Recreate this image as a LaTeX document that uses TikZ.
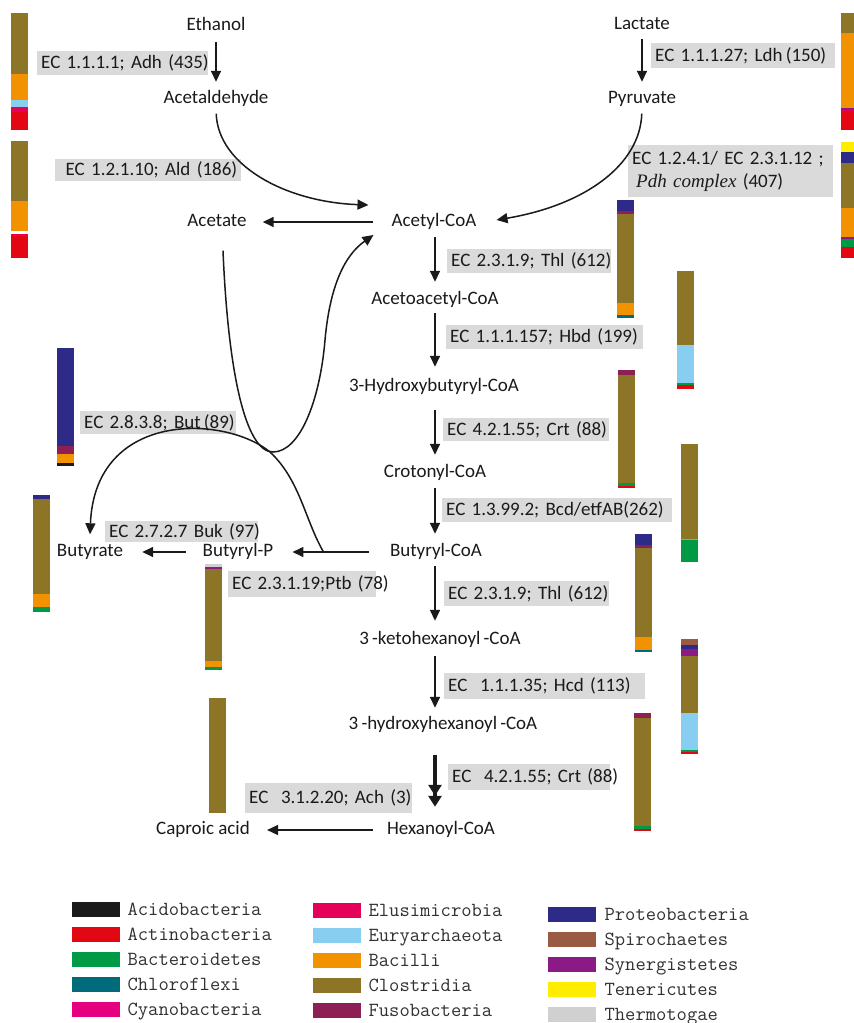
\documentclass[tikz,border=0pt]{standalone}
\usepackage{fontspec}
\setmainfont{Carlito}
\newfontfamily\pdhfont{Liberation Serif}
\usetikzlibrary{arrows.meta,calc}
\definecolor{acido}{HTML}{1A1A1A}
\definecolor{actino}{HTML}{E30613}
\definecolor{bactero}{HTML}{009A44}
\definecolor{chloro}{HTML}{006B7B}
\definecolor{cyano}{HTML}{E4007F}
\definecolor{elusi}{HTML}{E5005A}
\definecolor{eury}{HTML}{87CEF0}
\definecolor{bacilli}{HTML}{F39200}
\definecolor{clost}{HTML}{8C7527}
\definecolor{fuso}{HTML}{8E1F55}
\definecolor{proteo}{HTML}{2D2A88}
\definecolor{spiro}{HTML}{9A5B45}
\definecolor{synerg}{HTML}{8B1A86}
\definecolor{teneri}{HTML}{FFED00}
\definecolor{thermo}{HTML}{D0D0D0}
\definecolor{lblgray}{HTML}{DADADA}
\definecolor{inkc}{HTML}{1A1A1A}
\newcommand\chemfont{\fontsize{19}{23}\selectfont}
\newcommand\legfont{\fontsize{20}{22}\selectfont\ttfamily}
\newcommand\sg[4]{\fill[#1] (#2,#3) rectangle ({#2+17},#4);}
\tikzset{
  chem/.style={font=\chemfont, text=inkc, inner sep=0pt, text height=13pt, text depth=4pt},
  lbl/.style={fill=lblgray, font=\chemfont, text=inkc, inner xsep=4pt, inner ysep=0pt,
    anchor=north west, align=left},
  arr/.style={draw=inkc, line width=1.6pt, -{Triangle[length=11pt,width=10pt]}},
  curve/.style={draw=inkc, line width=1.5pt},
  swatch/.style={anchor=north west, minimum width=48pt, minimum height=15pt, inner sep=0pt},
  legtext/.style={anchor=west, font=\legfont, text=inkc!90, inner sep=0pt, text height=12pt, text depth=3pt}
}
\begin{document}
\begin{tikzpicture}[x=1pt,y=-1pt]
\useasboundingbox (0,0) rectangle (854,1023);
\fill[white] (0,0) rectangle (854,1023);

% ---------- metabolite nodes ----------
\node[chem] (ethanol) at (216,26) {Ethanol};
\node[chem] (acetald) at (216,99) {Acetaldehyde};
\node[chem] (lactate) at (642,25) {Lactate};
\node[chem] (pyruvate) at (642,99) {Pyruvate};
\node[chem] (acetate) at (217,222) {Acetate};
\node[chem] (acetyl) at (434,222) {Acetyl-CoA};
\node[chem] (acetoacetyl) at (435,300) {Acetoacetyl-CoA};
\node[chem] (hydroxybut) at (434,387) {3-Hydroxybutyryl-CoA};
\node[chem] (crotonyl) at (435,473) {Crotonyl-CoA};
\node[chem] (butyrylcoa) at (436,552) {Butyryl-CoA};
\node[chem] (butyrylp) at (238,552) {Butyryl-P};
\node[chem] (butyrate) at (90,552) {Butyrate};
\node[chem] (keto) at (440,640) {3\,-ketohexanoyl\,-CoA};
\node[chem] (hydroxyhex) at (443,725) {3\,-hydroxyhexanoyl\,-CoA};
\node[chem] (hexanoyl) at (441,830) {Hexanoyl-CoA};
\node[chem] (caproic) at (203,830) {Caproic acid};
\coordinate (ax) at (435,0);

% ---------- enzyme labels ----------
\node[lbl, text width=163pt, minimum height=24pt] (adh) at (37,51) {\mbox{EC 1.1.1.1; Adh (435)}};
\node[lbl, text width=176pt, minimum height=25pt] (ldh) at (651,43) {\mbox{EC 1.1.1.27; Ldh\,(150)}};
\node[lbl, text width=178pt, minimum height=22pt, align=right] (ald) at (55,159) {\mbox{EC 1.2.1.10; Ald (186)}};
\node[lbl, text width=197pt, minimum height=52pt] (pdh) at (628,145)
  {\mbox{EC 1.2.4.1/ EC 2.3.1.12 ;}\\\mbox{\hspace{4pt}{\pdhfont\itshape Pdh complex} (407)}};
\node[lbl, text width=156pt, minimum height=24pt] (thl) at (447,249) {\mbox{EC 2.3.1.9; Thl (612)}};
\node[lbl, text width=189pt, minimum height=24pt] (hbd) at (446,325) {\mbox{EC 1.1.1.157; Hbd (199)}};
\node[lbl, text width=148pt, minimum height=23pt] (but) at (80,411) {\mbox{EC 2.8.3.8; But\,(89)}};
\node[lbl, text width=158pt, minimum height=23pt] (crt) at (443,418) {\mbox{EC 4.2.1.55; Crt (88)}};
\node[lbl, text width=222pt, minimum height=24pt] (bcd) at (442,498) {\mbox{EC 1.3.99.2; Bcd/etfAB(262)}};
\node[lbl, text width=145pt, minimum height=21pt] (buk) at (105,521) {\mbox{EC 2.7.2.7 Buk (97)}};
\node[lbl, text width=140pt, minimum height=26pt] (ptb) at (228,571) {\mbox{EC 2.3.1.19;Ptb (78)}};
\node[lbl, text width=157pt, minimum height=25pt] (thlb) at (444,581) {\mbox{EC 2.3.1.9; Thl (612)}};
\node[lbl, text width=193pt, minimum height=26pt] (hcd) at (444,673) {\mbox{EC\ \ 1.1.1.35; Hcd (113)}};
\node[lbl, text width=154pt, minimum height=26pt] (crtb) at (448,764) {\mbox{EC\ \ 4.2.1.55; Crt (88)}};
\node[lbl, text width=159pt, minimum height=30pt] (ach) at (245,783) {\mbox{EC\ \ 3.1.2.20; Ach (3)}};

% ---------- straight connectors ----------
\draw[arr, shorten <=7.5pt, shorten >=8.5pt] (ethanol.south) -- (ethanol.south |- acetald.north);
\draw[arr, shorten <=5.5pt, shorten >=8.5pt] (lactate.south) -- (lactate.south |- pyruvate.north);
\draw[arr, shorten <=6.5pt, shorten >=9.5pt] (acetyl.south -| ax) -- (acetoacetyl.north -| ax);
\draw[arr, shorten <=4.5pt, shorten >=11.5pt] (acetoacetyl.south -| ax) -- (hydroxybut.north -| ax);
\draw[arr, shorten <=14.5pt, shorten >=9.5pt] (hydroxybut.south -| ax) -- (crotonyl.north -| ax);
\draw[arr, shorten <=6.5pt, shorten >=9.5pt] (crotonyl.south -| ax) -- (butyrylcoa.north -| ax);
\draw[arr, shorten <=5.5pt, shorten >=10.5pt] (butyrylcoa.south -| ax) -- (keto.north -| ax);
\draw[arr, shorten <=7.5pt, shorten >=8.5pt] (keto.south -| ax) -- (hydroxyhex.north -| ax);
\draw[draw=inkc, line width=3.2pt, -{Triangle[length=11pt,width=13pt]Triangle[length=11pt,width=13pt]},
  shorten <=21.5pt, shorten >=14.5pt] (hydroxyhex.south -| ax) -- (hexanoyl.north -| ax);
\draw[arr, shorten <=18pt, shorten >=16pt] (acetyl.west) -- (acetate.east);
\draw[arr, shorten <=21pt, shorten >=19pt] (butyrylcoa.west) -- (butyrylp.east);
\draw[arr, shorten <=17pt, shorten >=19pt] (butyrylp.west) -- (butyrate.east);
\draw[arr, shorten <=14pt, shorten >=17pt] (hexanoyl.west) -- (caproic.east);

% ---------- curved connectors ----------
\draw[curve, -{Triangle[length=11pt,width=10pt]}, shorten <=6pt]
  (acetald.south) .. controls (218,165) and (285,202) .. ($(acetyl.west)+(-23,-17)$);
\draw[curve, -{Triangle[length=11pt,width=10pt]}, shorten <=6pt]
  (pyruvate.south) .. controls (640,165) and (585,205) .. ($(acetyl.east)+(20,-2)$);
\draw[curve, -{Triangle[length=11pt,width=10pt]}]
  ($(acetate.south)+(6,20)$) .. controls (228,370) and (245,452) .. (273,452)
  .. controls (300,452) and (320,400) .. (325,340)
  .. controls (330,285) and (345,255) .. ($(acetyl.west)+(-18,13)$);
\draw[curve, -{Triangle[length=11pt,width=10pt]}]
  ($(butyrylp.east)+(50,0)$) .. controls (305,520) and (300,480) .. (270,452)
  .. controls (225,415) and (95,410) .. ($(butyrate.north)+(0,-9)$);

% ---------- stacked bars ----------
% top-left (Adh)
\sg{clost}{11}{13}{74}\sg{bacilli}{11}{74}{100}\sg{eury}{11}{100}{107}\sg{elusi}{11}{107}{112}\sg{actino}{11}{112}{130}
% left (Ald)
\sg{clost}{11}{141}{201}\sg{bacilli}{11}{201}{231}\sg{elusi}{11}{234}{236}\sg{actino}{11}{236}{258}
% top-right (Ldh)
\sg{clost}{841}{13}{33}\sg{bacilli}{841}{33}{108}\sg{synerg}{841}{108}{110}\sg{elusi}{841}{110}{111}\sg{actino}{841}{111}{130}
% right (Pdh)
\sg{teneri}{841}{142}{152}\sg{proteo}{841}{152}{163}\sg{clost}{841}{163}{208}\sg{bacilli}{841}{208}{237}\sg{synerg}{841}{237}{239}\sg{bactero}{841}{239}{247}\sg{actino}{841}{247}{258}
% Thl
\sg{proteo}{617}{200}{211}\sg{fuso}{617}{211}{214}\sg{clost}{617}{214}{303}\sg{bacilli}{617}{303}{315}\sg{chloro}{617}{315}{318}
% Hbd
\sg{clost}{677}{271}{345}\sg{eury}{677}{345}{383}\sg{bactero}{677}{383}{385}\sg{actino}{677}{385}{389}
% Crt
\sg{fuso}{618}{370}{375}\sg{clost}{618}{375}{483}\sg{bactero}{618}{483}{486}\sg{actino}{618}{486}{487.5}
% Bcd
\sg{clost}{681}{444}{539}\sg{bacilli}{681}{539}{540}\sg{bactero}{681}{540}{562}
% Thl (2)
\sg{proteo}{635}{534}{545}\sg{fuso}{635}{545}{548}\sg{clost}{635}{548}{637}\sg{bacilli}{635}{637}{650}\sg{chloro}{635}{650}{652}
% Hcd
\sg{spiro}{681}{639}{645}\sg{proteo}{681}{645}{649}\sg{synerg}{681}{649}{656}\sg{clost}{681}{656}{713}\sg{eury}{681}{713}{750}\sg{bactero}{681}{750}{752}\sg{actino}{681}{752}{754}
% Crt (2)
\sg{fuso}{634}{713}{718}\sg{clost}{634}{718}{826}\sg{bactero}{634}{826}{829}\sg{actino}{634}{829}{831}
% But
\sg{proteo}{57}{348}{446}\sg{fuso}{57}{446}{454}\sg{bacilli}{57}{454}{463}\sg{acido}{57}{463}{466}
% Buk
\sg{proteo}{33}{495}{499}\sg{clost}{33}{499}{594}\sg{bacilli}{33}{594}{607}\sg{bactero}{33}{607}{612}
% Ptb
\sg{thermo}{205}{564}{567}\sg{synerg}{205}{567}{569}\sg{clost}{205}{569}{661}\sg{bacilli}{205}{661}{667}\sg{bactero}{205}{667}{670}
% Ach
\sg{clost}{209}{698}{813}

% ---------- legend ----------
\foreach \c/\t/\i in {acido/Acidobacteria/0, actino/Actinobacteria/1, bactero/Bacteroidetes/2, chloro/Chloroflexi/3, cyano/Cyanobacteria/4}{
  \node[swatch, fill=\c] (sa\i) at (72,{902+25*\i}) {};
  \node[legtext] (ta\i) at ($(sa\i.east)+(7,1)$) {\t};
}
\foreach \c/\t/\i in {elusi/Elusimicrobia/0, eury/Euryarchaeota/1, bacilli/Bacilli/2, clost/Clostridia/3, fuso/Fusobacteria/4}{
  \node[swatch, fill=\c] (sb\i) at (313,{903+25*\i}) {};
  \node[legtext] (tb\i) at ($(sb\i.east)+(7,1)$) {\t};
}
\foreach \c/\t/\i in {proteo/Proteobacteria/0, spiro/Spirochaetes/1, synerg/Synergistetes/2, teneri/Tenericutes/3, thermo/Thermotogae/4}{
  \node[swatch, fill=\c] (sc\i) at (548,{907+25*\i}) {};
  \node[legtext] (tc\i) at ($(sc\i.east)+(8,1)$) {\t};
}
\end{tikzpicture}
\end{document}
